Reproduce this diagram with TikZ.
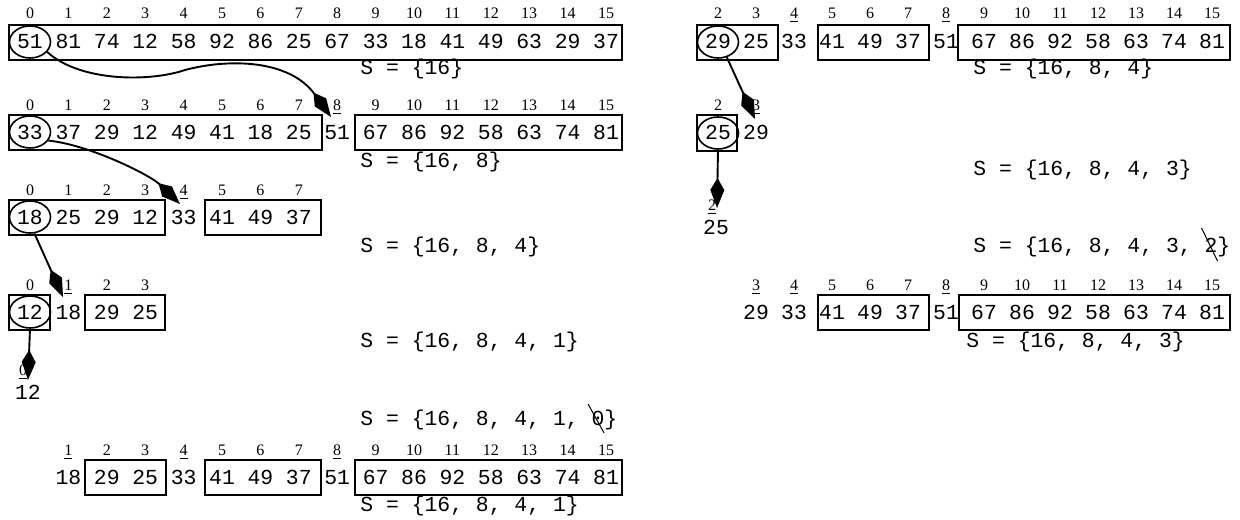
\documentclass[tikz,border=0pt]{standalone}
\usepackage{fontspec}
\setmainfont{Liberation Serif}
\setmonofont{Liberation Mono}
\usetikzlibrary{arrows.meta,shapes.geometric,calc}
\newcommand\mkrow[6]{%
  \foreach \c/\v/\l in {#6} {
    \node[num] (#1n\c) at ({#2+#3*\c},#5) {\v};
    \node[idx] (#1i\c) at ({#2+#3*\c},#4) {\l};
  }}
\begin{document}
\begin{tikzpicture}[x=0.5pt,y=-0.5pt,
  num/.style={font=\ttfamily\fontsize{10.7pt}{12pt}\selectfont, inner sep=0pt, text height=7pt, text depth=0pt},
  idx/.style={font=\fontsize{8pt}{9.6pt}\selectfont, inner sep=0pt, text height=5.4pt, text depth=0pt},
  sset/.style={num, anchor=west},
  box/.style={draw, line width=0.8pt},
  pivot/.style={draw, ellipse, line width=0.8pt, minimum width=20.5pt, minimum height=16pt, inner sep=0pt},
  conn/.style={line width=0.95pt, -{Kite[length=15pt,width=7pt,inset=6pt]}},
  slash/.style={line width=0.5pt}]
\fill[white] (0,0) rectangle (1240,519);
% ---------------- left panel ----------------
\mkrow{A}{30}{38.4}{13}{42}{0/51/0,1/81/1,2/74/2,3/12/3,4/58/4,5/92/5,6/86/6,7/25/7,8/67/8,9/33/9,10/18/10,11/41/11,12/49/12,13/63/13,14/29/14,15/37/15}
\draw[box] (9,25) rectangle (622,60);
\node[pivot] (eA) at (An0) {};
\node[sset] (SA) at (360,68) {S = \{16\}};

\mkrow{B}{30}{38.4}{105}{132}{0/33/0,1/37/1,2/29/2,3/12/3,4/49/4,5/41/5,6/18/6,7/25/7,8/51/\underline{8},9/67/9,10/86/10,11/92/11,12/58/12,13/63/13,14/74/14,15/81/15}
\draw[box] (9,115) rectangle (322,150);
\draw[box] (355,115) rectangle (622,150);
\node[pivot] (eB) at (Bn0) {};
\node[sset] (SB) at (360,160) {S = \{16, 8\}};

\mkrow{C}{30}{38.4}{190}{217}{0/18/0,1/25/1,2/29/2,3/12/3,4/33/\underline{4},5/41/5,6/49/6,7/37/7}
\draw[box] (9,200) rectangle (165,235);
\draw[box] (205,200) rectangle (321,235);
\node[pivot] (eC) at (Cn0) {};
\node[sset] (SC) at (360,245) {S = \{16, 8, 4\}};

\mkrow{D}{30}{38.4}{285}{312}{0/12/0,1/18/\underline{1},2/29/2,3/25/3}
\draw[box] (9,295) rectangle (50,330);
\draw[box] (85,295) rectangle (165,330);
\node[pivot] (eD) at (Dn0) {};
\node[sset] (SD) at (360,340) {S = \{16, 8, 4, 1\}};
\node[idx] (Dd) at (23,370) {\underline{0}};
\node[num] (Dv) at (28,392) {12};

\node[sset] (SE) at (360,418) {S = \{16, 8, 4, 1, 0\}};
\coordinate (zE) at ($(SE.west)+(118.77pt,0pt)$);
\draw[slash] ([shift={(-9.5,-14)}]zE) -- ([shift={(6.5,15)}]zE);

\mkrow{E}{30}{38.4}{450}{477}{1/18/\underline{1},2/29/2,3/25/3,4/33/\underline{4},5/41/5,6/49/6,7/37/7,8/51/\underline{8},9/67/9,10/86/10,11/92/11,12/58/12,13/63/13,14/74/14,15/81/15}
\draw[box] (85,460) rectangle (166,495);
\draw[box] (205,460) rectangle (321,495);
\draw[box] (355,460) rectangle (622,495);
\node[sset] (SEb) at (360,504) {S = \{16, 8, 4, 1\}};

% connectors left
\coordinate (tB) at (331,117);
\coordinate (tC) at (180,204);
\coordinate (tD) at (63,297);
\coordinate (tDd) at (28,380);
\draw[conn] (eA.-30) .. controls (80,82) and (150,82) .. (185,70) .. controls (230,58) and (290,60) .. (tB);
\draw[conn] (eB.-25) .. controls (90,145) and (150,175) .. (tC);
\draw[conn] (eC.-75) -- (tD);
\draw[conn] (eD.south) -- (tDd);

% ---------------- right panel ----------------
\mkrow{F}{642}{38}{13}{42}{2/29/2,3/25/3,4/33/\underline{4},5/41/5,6/49/6,7/37/7,8/51/\underline{8},9/67/9,10/86/10,11/92/11,12/58/12,13/63/13,14/74/14,15/81/15}
\draw[box] (697,25) rectangle (778,60);
\draw[box] (818,25) rectangle (929,60);
\draw[box] (958,25) rectangle (1230,60);
\node[pivot] (eF) at (Fn2) {};
\node[sset] (SF) at (973,68) {S = \{16, 8, 4\}};

\mkrow{G}{642}{38}{105}{133}{2/25/2,3/29/\underline{3}}
\draw[box] (697,115) rectangle (737,151);
\node[pivot] (eG) at (Gn2) {};
\node[idx] (Gd) at (712,205) {\underline{2}};
\node[num] (Gv) at (716,227) {25};

\node[sset] (SG) at (973,168) {S = \{16, 8, 4, 3\}};
\node[sset] (SG2) at (973,245) {S = \{16, 8, 4, 3, 2\}};
\coordinate (zG) at ($(SG2.west)+(118.77pt,0pt)$);
\draw[slash] ([shift={(-9,-17)}]zG) -- ([shift={(7,16)}]zG);

\mkrow{H}{642}{38}{285}{312}{3/29/\underline{3},4/33/\underline{4},5/41/5,6/49/6,7/37/7,8/51/\underline{8},9/67/9,10/86/10,11/92/11,12/58/12,13/63/13,14/74/14,15/81/15}
\draw[box] (818,295) rectangle (929,330);
\draw[box] (959,295) rectangle (1230,330);
\node[sset] (SH) at (966,340) {S = \{16, 8, 4, 3\}};

% connectors right
\coordinate (tG) at (755,119);
\coordinate (tGd) at (717,208);
\draw[conn] (eF.-60) -- (tG);
\draw[conn] (eG.south) -- (tGd);
\end{tikzpicture}
\end{document}
